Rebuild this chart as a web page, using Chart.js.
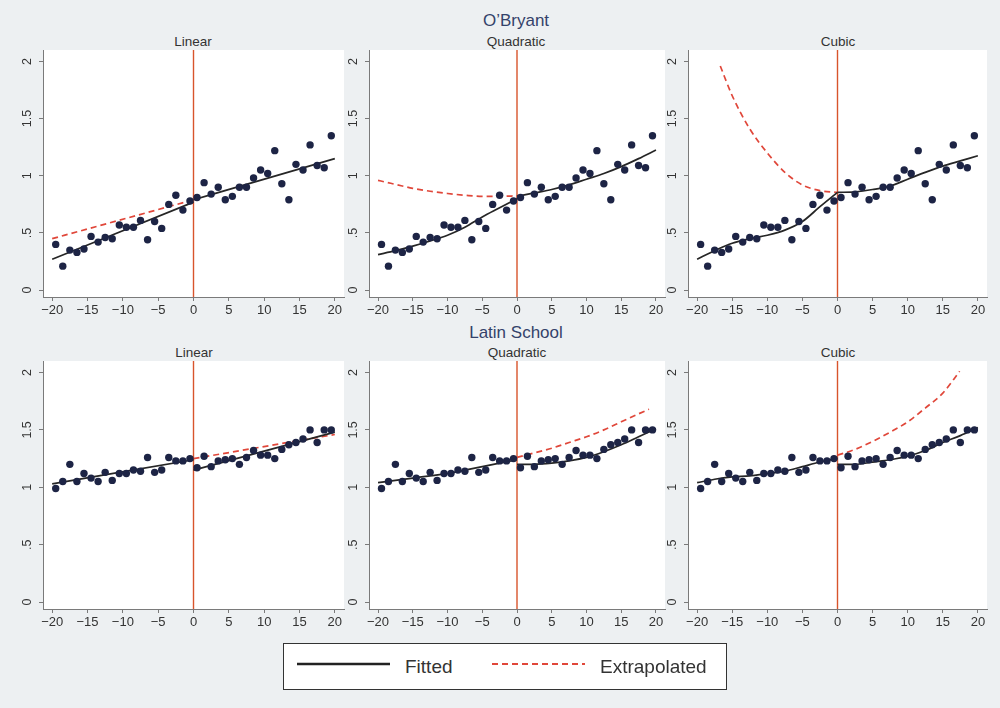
<!DOCTYPE html>
<html>
<head>
<meta charset="utf-8">
<title>O'Bryant / Latin School</title>
<script src="https://cdn.jsdelivr.net/npm/chart.js@4.4.1/dist/chart.umd.min.js"></script>
<style>
  body { margin: 0; width: 1000px; height: 708px; background: #edf0f2; position: relative; overflow: hidden;
         font-family: "Liberation Sans", Arial, sans-serif; }
  .panel { position: absolute; }
  .group { position: absolute; width: 300px; text-align: center; font-size: 17px; line-height: 20px; color: #34426a; }
  .sub { position: absolute; width: 200px; text-align: center; font-size: 13.5px; line-height: 16px; color: #333; }
  .legend { position: absolute; left: 283px; top: 643px; width: 442px; height: 45px; border: 1.5px solid #333; background: #fff; }
  .legend span { position: absolute; font-size: 19px; line-height: 22px; color: #333; top: 12px; }
  .legend svg { position: absolute; top: 17px; }
</style>
</head>
<body>

<div class="group" style="left:366px; top:11px">O’Bryant</div>
<div class="group" style="left:366px; top:323px">Latin School</div>

<div class="sub" style="left:93px; top:34px">Linear</div>
<div class="sub" style="left:416px; top:34px">Quadratic</div>
<div class="sub" style="left:738px; top:34px">Cubic</div>
<div class="sub" style="left:94px; top:345px">Linear</div>
<div class="sub" style="left:417px; top:345px">Quadratic</div>
<div class="sub" style="left:738px; top:345px">Cubic</div>

<div class="panel" style="left:3px; top:44px; width:349px; height:283px"><canvas id="obLinear"></canvas></div>
<div class="panel" style="left:329px; top:44px; width:344px; height:283px"><canvas id="obQuadratic"></canvas></div>
<div class="panel" style="left:648px; top:44px; width:347px; height:283px"><canvas id="obCubic"></canvas></div>
<div class="panel" style="left:3px; top:355px; width:349px; height:284px"><canvas id="laLinear"></canvas></div>
<div class="panel" style="left:329px; top:355px; width:344px; height:284px"><canvas id="laQuadratic"></canvas></div>
<div class="panel" style="left:648px; top:355px; width:347px; height:284px"><canvas id="laCubic"></canvas></div>

<div class="legend">
  <svg style="left:13px" width="93" height="6"><line x1="0" y1="3" x2="93" y2="3" stroke="#222" stroke-width="2.5"/></svg>
  <span style="left:121px">Fitted</span>
  <svg style="left:208px" width="93" height="6"><line x1="0" y1="3" x2="93" y2="3" stroke="#e0473a" stroke-width="2" stroke-dasharray="6,4"/></svg>
  <span style="left:316px">Extrapolated</span>
</div>

<script>
// axis ticks
const xTicks = [-20, -15, -10, -5, 0, 5, 10, 15, 20];
const xTickLabels = ['\u221220', '\u221215', '\u221210', '\u22125', '0', '5', '10', '15', '20'];
const yTicks = [0, 0.5, 1, 1.5, 2];
const yTickLabels = ['0', '.5', '1', '1.5', '2'];
const cutoff = 0;

// bin midpoints (running variable)
const binX = [-19.5, -18.5, -17.5, -16.5, -15.5, -14.5, -13.5, -12.5, -11.5, -10.5,
              -9.5, -8.5, -7.5, -6.5, -5.5, -4.5, -3.5, -2.5, -1.5, -0.5,
              0.5, 1.5, 2.5, 3.5, 4.5, 5.5, 6.5, 7.5, 8.5, 9.5,
              10.5, 11.5, 12.5, 13.5, 14.5, 15.5, 16.5, 17.5, 18.5, 19.5];

// bin means
const obryantY = [0.40, 0.21, 0.35, 0.33, 0.36, 0.47, 0.42, 0.46, 0.45, 0.57,
                  0.55, 0.55, 0.61, 0.44, 0.60, 0.54, 0.75, 0.83, 0.70, 0.78,
                  0.81, 0.94, 0.84, 0.90, 0.79, 0.82, 0.90, 0.90, 0.98, 1.05,
                  1.02, 1.22, 0.93, 0.79, 1.10, 1.05, 1.27, 1.09, 1.07, 1.35];
const latinY = [0.99, 1.05, 1.20, 1.05, 1.12, 1.08, 1.05, 1.13, 1.06, 1.12,
                1.12, 1.15, 1.14, 1.26, 1.13, 1.15, 1.26, 1.23, 1.23, 1.25,
                1.17, 1.27, 1.18, 1.23, 1.24, 1.25, 1.20, 1.26, 1.32, 1.28,
                1.28, 1.25, 1.33, 1.37, 1.39, 1.42, 1.50, 1.39, 1.50, 1.50];

// x positions where the fitted curves are evaluated
const lineLeftX = [-20, 0];
const lineRightX = [0, 20];
const fitLeftX = [-20, -17.5, -15, -12.5, -10, -7.5, -5, -2.5, 0];
const fitRightX = [0, 2.5, 5, 7.5, 10, 12.5, 15, 17.5, 20];

// O'Bryant fits
const obLinLeft = [0.27, 0.77];
const obLinRight = [0.79, 1.15];
const obLinExtrap = [0.45, 0.79];
const obQuadLeft = [0.31, 0.345, 0.385, 0.43, 0.48, 0.55, 0.64, 0.72, 0.80];
const obQuadRight = [0.82, 0.85, 0.88, 0.92, 0.97, 1.02, 1.08, 1.15, 1.225];
const obQuadExtrap = [0.96, 0.925, 0.89, 0.865, 0.845, 0.83, 0.82, 0.82, 0.825];
const obCubLeft = [0.27, 0.345, 0.41, 0.45, 0.48, 0.525, 0.60, 0.73, 0.855];
const obCubRight = [0.855, 0.86, 0.88, 0.91, 0.97, 1.03, 1.085, 1.13, 1.175];
const obCubExtrapX = [-16.7, -15, -12.5, -10, -7.5, -5, -2.5, 0];
const obCubExtrap = [1.96, 1.70, 1.41, 1.20, 1.03, 0.92, 0.87, 0.855];

// Latin School fits
const laLinLeft = [1.03, 1.24];
const laLinRight = [1.15, 1.48];
const laLinExtrap = [1.25, 1.46];
const laQuadLeft = [1.04, 1.06, 1.08, 1.10, 1.12, 1.15, 1.18, 1.21, 1.24];
const laQuadRight = [1.20, 1.20, 1.21, 1.23, 1.26, 1.31, 1.37, 1.44, 1.51];
const laQuadExtrapX = [0, 2.5, 5, 7.5, 10, 12.5, 15, 17.5, 19];
const laQuadExtrap = [1.26, 1.30, 1.34, 1.39, 1.44, 1.50, 1.57, 1.64, 1.68];
const laCubLeft = [1.04, 1.07, 1.09, 1.10, 1.12, 1.14, 1.18, 1.22, 1.25];
const laCubRight = [1.20, 1.20, 1.22, 1.24, 1.27, 1.32, 1.39, 1.45, 1.52];
const laCubExtrapX = [0, 2.5, 5, 7.5, 10, 12.5, 15, 17.4];
const laCubExtrap = [1.28, 1.33, 1.40, 1.48, 1.57, 1.69, 1.82, 2.01];

const dotColor = '#1d2445';
const fitColor = '#262626';
const extrapColor = '#e0473a';
const cutoffColor = '#d8542c';
const axisColor = '#7a7a7a';

function zip(xs, ys) {
    return xs.map((x, i) => ({ x: x, y: ys[i] }));
}

// white plot region + vertical line at the cutoff
const plotRegion = {
    id: 'plotRegion',
    beforeDraw(chart) {
        const a = chart.chartArea;
        chart.ctx.save();
        chart.ctx.fillStyle = '#ffffff';
        chart.ctx.fillRect(a.left, a.top, a.right - a.left, a.bottom - a.top);
        chart.ctx.restore();
    },
    beforeDatasetsDraw(chart) {
        const a = chart.chartArea;
        const x = chart.scales.x.getPixelForValue(cutoff);
        const ctx = chart.ctx;
        ctx.save();
        ctx.strokeStyle = cutoffColor;
        ctx.lineWidth = 1.4;
        ctx.beginPath();
        ctx.moveTo(x, a.top);
        ctx.lineTo(x, a.bottom);
        ctx.stroke();
        ctx.restore();
    }
};

function fitLine(points, dashed) {
    return {
        data: points,
        showLine: true,
        pointRadius: 0,
        borderColor: dashed ? extrapColor : fitColor,
        borderWidth: 1.7,
        borderDash: dashed ? [6, 4] : [],
        tension: 0.4,
        cubicInterpolationMode: 'monotone',
        order: dashed ? 3 : 2
    };
}

function drawPanel(canvasId, binMeans, left, right, extrap) {
    new Chart(document.getElementById(canvasId), {
        type: 'scatter',
        data: {
            datasets: [
                {
                    data: zip(binX, binMeans),
                    backgroundColor: dotColor,
                    borderColor: dotColor,
                    pointRadius: 3.7,
                    borderWidth: 0,
                    order: 1
                },
                fitLine(left, false),
                fitLine(right, false),
                fitLine(extrap, true)
            ]
        },
        options: {
            responsive: true,
            maintainAspectRatio: false,
            animation: false,
            events: [],
            layout: { padding: { top: 6, right: 8, bottom: 0, left: 0 } },
            plugins: { legend: { display: false }, tooltip: { enabled: false } },
            scales: {
                x: {
                    type: 'linear',
                    min: -21.3,
                    max: 21.3,
                    afterBuildTicks: scale => { scale.ticks = xTicks.map(v => ({ value: v })); },
                    afterFit: scale => { scale.height = 30; scale.paddingLeft = 0; scale.paddingRight = 0; },
                    grid: { drawOnChartArea: false, drawTicks: true, tickLength: 4, color: axisColor },
                    border: { display: true, color: axisColor, width: 1 },
                    ticks: {
                        padding: 2,
                        color: '#333',
                        font: { family: '"Liberation Sans", Arial, sans-serif', size: 13 },
                        callback: (value, index) => xTickLabels[index]
                    }
                },
                y: {
                    type: 'linear',
                    min: -0.06,
                    max: 2.1,
                    afterBuildTicks: scale => { scale.ticks = yTicks.map(v => ({ value: v })); },
                    afterFit: scale => { scale.width = 40; scale.paddingTop = 0; scale.paddingBottom = 0; },
                    grid: { drawOnChartArea: false, drawTicks: true, tickLength: 4, color: axisColor },
                    border: { display: true, color: axisColor, width: 1 },
                    ticks: {
                        padding: 3,
                        minRotation: 90,
                        maxRotation: 90,
                        crossAlign: 'center',
                        color: '#333',
                        font: { family: '"Liberation Sans", Arial, sans-serif', size: 12.5 },
                        callback: (value, index) => yTickLabels[index]
                    }
                }
            }
        },
        plugins: [plotRegion]
    });
}

drawPanel('obLinear', obryantY, zip(lineLeftX, obLinLeft), zip(lineRightX, obLinRight), zip(lineLeftX, obLinExtrap));
drawPanel('obQuadratic', obryantY, zip(fitLeftX, obQuadLeft), zip(fitRightX, obQuadRight), zip(fitLeftX, obQuadExtrap));
drawPanel('obCubic', obryantY, zip(fitLeftX, obCubLeft), zip(fitRightX, obCubRight), zip(obCubExtrapX, obCubExtrap));
drawPanel('laLinear', latinY, zip(lineLeftX, laLinLeft), zip(lineRightX, laLinRight), zip(lineRightX, laLinExtrap));
drawPanel('laQuadratic', latinY, zip(fitLeftX, laQuadLeft), zip(fitRightX, laQuadRight), zip(laQuadExtrapX, laQuadExtrap));
drawPanel('laCubic', latinY, zip(fitLeftX, laCubLeft), zip(fitRightX, laCubRight), zip(laCubExtrapX, laCubExtrap));
</script>
</body>
</html>
